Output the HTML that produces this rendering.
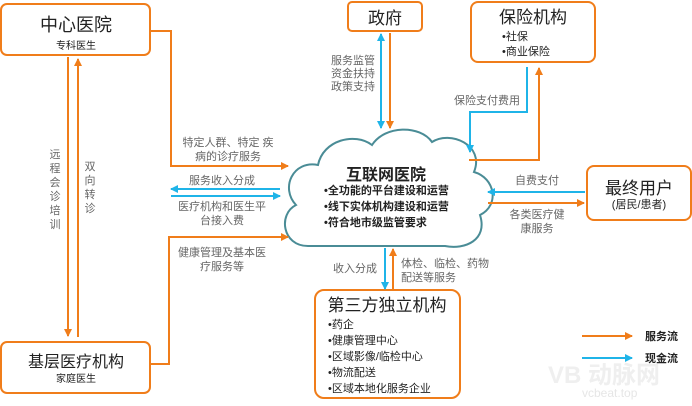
<!DOCTYPE html>
<html><head><meta charset="utf-8"><style>
body{margin:0;width:692px;height:401px;background:#fff;overflow:hidden;font-family:"Liberation Sans","Noto Sans CJK SC",sans-serif}
svg text{font-family:"Liberation Sans","Noto Sans CJK SC",sans-serif}
</style></head><body>
<svg width="692" height="401" xmlns="http://www.w3.org/2000/svg">
<defs>
<marker id="ao" markerWidth="8" markerHeight="8" refX="7" refY="4" orient="auto" markerUnits="userSpaceOnUse"><path d="M0,0 L8,4 L0,8 z" fill="#f07d1a"/></marker>
<marker id="ab" markerWidth="8" markerHeight="8" refX="7" refY="4" orient="auto" markerUnits="userSpaceOnUse"><path d="M0,0 L8,4 L0,8 z" fill="#1fb4e8"/></marker>
<marker id="abs" markerWidth="8" markerHeight="8" refX="1" refY="4" orient="auto" markerUnits="userSpaceOnUse"><path d="M8,0 L0,4 L8,8 z" fill="#1fb4e8"/></marker>
</defs>
<text x="548" y="383" font-size="24" fill="#efefef" font-weight="bold">VB 动脉网</text>
<text x="582" y="397" font-size="12" fill="#e6e6e6">vcbeat.top</text>
<g fill="none" stroke-width="2">
<rect x="1" y="4" width="149" height="51" rx="6" stroke="#f07d1a"/>
<rect x="1" y="342" width="149" height="51" rx="6" stroke="#f07d1a"/>
<rect x="348" y="2" width="74" height="29" rx="4" stroke="#f07d1a"/>
<rect x="471" y="2" width="124" height="60" rx="7" stroke="#f07d1a"/>
<rect x="587" y="166" width="104" height="54" rx="7" stroke="#f07d1a"/>
<rect x="315" y="290" width="145" height="108" rx="9" stroke="#f07d1a"/>
<path d="M308,246 C282,246 278,214 296,205 C280,188 293,160 318,165 C323,140 355,132 372,145 C385,125 420,125 432,142 C450,130 485,145 474,172 C495,178 500,205 480,215 C488,240 465,250 445,246 Z" fill="#fff" stroke="#4a8c96" stroke-width="2"/>
<polyline points="150,31 171,31 171,166 288,166" stroke="#f07d1a" marker-end="url(#ao)"/>
<polyline points="150,364 169,364 169,237 288,237" stroke="#f07d1a" marker-end="url(#ao)"/>
<line x1="68" y1="57" x2="68" y2="336" stroke="#f07d1a" marker-end="url(#ao)"/>
<line x1="78" y1="337" x2="78" y2="59" stroke="#f07d1a" marker-end="url(#ao)"/>
<line x1="280" y1="189" x2="171" y2="189" stroke="#1fb4e8" marker-end="url(#ab)"/>
<line x1="171" y1="196" x2="280" y2="196" stroke="#1fb4e8" marker-end="url(#ab)"/>
<line x1="381" y1="34" x2="381" y2="128" stroke="#1fb4e8" marker-end="url(#ab)" marker-start="url(#abs)"/>
<line x1="390" y1="33" x2="390" y2="128" stroke="#f07d1a" marker-end="url(#ao)"/>
<polyline points="527,67 527,112 470,112 470,152" stroke="#1fb4e8" marker-end="url(#ab)"/>
<polyline points="469,160 539,160 539,68" stroke="#f07d1a" marker-end="url(#ao)"/>
<line x1="585" y1="192" x2="488" y2="192" stroke="#1fb4e8" marker-end="url(#ab)"/>
<line x1="488" y1="203" x2="584" y2="203" stroke="#f07d1a" marker-end="url(#ao)"/>
<line x1="385" y1="248" x2="385" y2="289" stroke="#1fb4e8" marker-end="url(#ab)"/>
<line x1="393" y1="290" x2="393" y2="249" stroke="#f07d1a" marker-end="url(#ao)"/>
<line x1="582" y1="336" x2="632" y2="336" stroke="#f07d1a" marker-end="url(#ao)"/>
<line x1="582" y1="358" x2="632" y2="358" stroke="#1fb4e8" marker-end="url(#ab)"/>
</g>
<g fill="#222">
<text x="76" y="31" font-size="18" text-anchor="middle">中心医院</text>
<text x="76" y="49" font-size="10" text-anchor="middle">专科医生</text>
<text x="76" y="367" font-size="16" text-anchor="middle">基层医疗机构</text>
<text x="76" y="382" font-size="10" text-anchor="middle">家庭医生</text>
<text x="385" y="24" font-size="17" text-anchor="middle">政府</text>
<text x="533" y="23" font-size="17" text-anchor="middle">保险机构</text>
<text x="502" y="40" font-size="11">•社保</text>
<text x="502" y="55" font-size="11">•商业保险</text>
<text x="639" y="194" font-size="17" text-anchor="middle">最终用户</text>
<text x="639" y="208" font-size="11" text-anchor="middle">(居民/患者)</text>
<text x="387" y="311" font-size="17" text-anchor="middle">第三方独立机构</text>
<g font-size="11"><text x="328" y="328">•药企</text><text x="328" y="344">•健康管理中心</text><text x="328" y="360">•区域影像/临检中心</text><text x="328" y="376">•物流配送</text><text x="328" y="392">•区域本地化服务企业</text></g>
<text x="386" y="180" font-size="16" font-weight="bold" text-anchor="middle">互联网医院</text>
<g font-size="11" font-weight="bold"><text x="324" y="194">•全功能的平台建设和运营</text><text x="324" y="210">•线下实体机构建设和运营</text><text x="324" y="226">•符合地市级监管要求</text></g>
<text x="645" y="340" font-size="11" font-weight="bold">服务流</text>
<text x="645" y="362" font-size="11" font-weight="bold">现金流</text>
</g>
<g fill="#666" font-size="11">
<text x="228" y="146" text-anchor="middle">特定人群、特定 疾</text>
<text x="228" y="160" text-anchor="middle">病的诊疗服务</text>
<text x="222" y="184" text-anchor="middle">服务收入分成</text>
<text x="222" y="210" text-anchor="middle">医疗机构和医生平</text>
<text x="222" y="224" text-anchor="middle">台接入费</text>
<text x="222" y="256" text-anchor="middle">健康管理及基本医</text>
<text x="222" y="270" text-anchor="middle">疗服务等</text>
<g text-anchor="middle"><text x="55" y="158">远</text><text x="55" y="172">程</text><text x="55" y="186">会</text><text x="55" y="200">诊</text><text x="55" y="214">培</text><text x="55" y="228">训</text>
<text x="90" y="170">双</text><text x="90" y="184">向</text><text x="90" y="198">转</text><text x="90" y="212">诊</text></g>
<text x="331" y="64">服务监管</text><text x="331" y="77">资金扶持</text><text x="331" y="90">政策支持</text>
<text x="454" y="104">保险支付费用</text>
<text x="537" y="184" text-anchor="middle">自费支付</text>
<text x="537" y="218" text-anchor="middle">各类医疗健</text>
<text x="537" y="232" text-anchor="middle">康服务</text>
<text x="333" y="272">收入分成</text>
<text x="401" y="267">体检、临检、药物</text>
<text x="401" y="281">配送等服务</text>
</g>
</svg>
</body></html>
